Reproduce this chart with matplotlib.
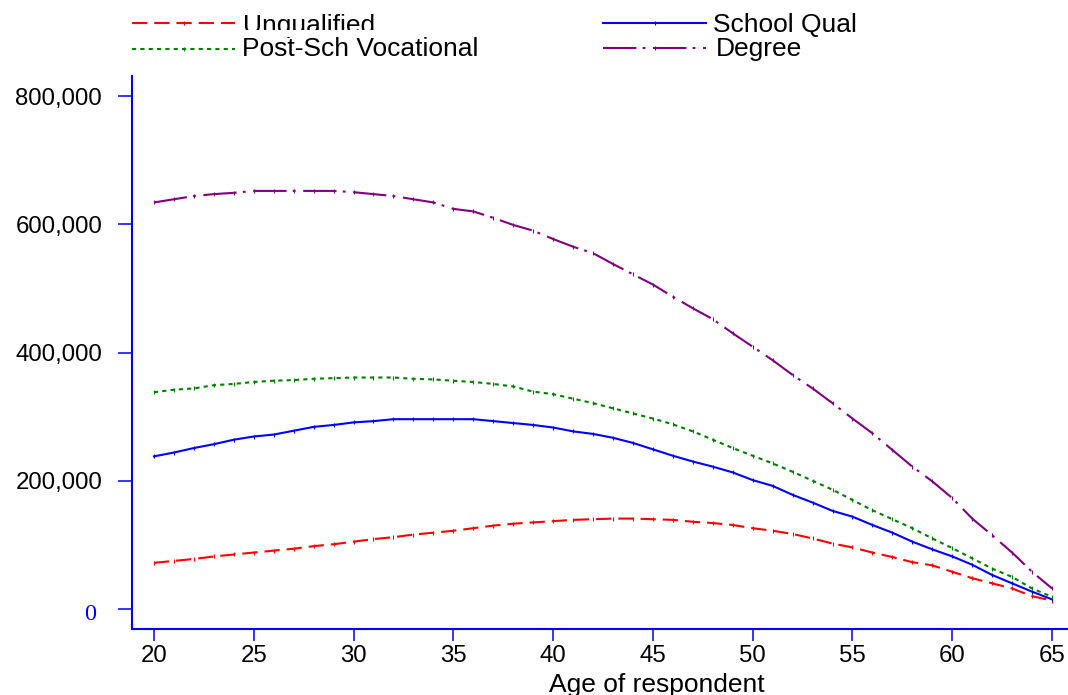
import matplotlib
matplotlib.use("Agg")
import matplotlib.pyplot as plt
from matplotlib.lines import Line2D
from matplotlib.patches import Rectangle
from matplotlib.ticker import FuncFormatter
import matplotlib.transforms as mtransforms

plt.rcParams['font.family'] = ['Liberation Sans', 'DejaVu Sans']
plt.rcParams['lines.scale_dashes'] = False

ages = list(range(20, 66))
unqualified = [72, 75, 78, 82, 85, 88, 91, 94, 98, 101, 105, 109, 112, 116, 119, 122,
               126, 130, 133, 135, 137, 139, 140, 141, 141, 140, 139, 136, 134, 131,
               126, 122, 117, 110, 102, 96, 88, 81, 73, 68, 58, 48, 40, 32, 20, 13]
school_qual = [238, 244, 251, 257, 264, 269, 272, 278, 284, 287, 291, 293, 296, 296,
               296, 296, 296, 293, 290, 287, 283, 277, 273, 267, 259, 249, 239, 230,
               222, 213, 201, 192, 178, 166, 153, 144, 131, 119, 105, 93, 82, 69, 53,
               40, 27, 15]
post_sch = [338, 342, 344, 349, 351, 354, 356, 357, 359, 360, 361, 361, 361, 359, 358,
            356, 354, 351, 347, 339, 335, 328, 321, 313, 305, 297, 288, 277, 264, 251,
            239, 227, 214, 200, 186, 170, 154, 140, 126, 110, 95, 79, 63, 50, 32, 19]
degree = [634, 639, 644, 647, 649, 652, 652, 652, 652, 652, 650, 647, 644, 639, 634,
          624, 620, 610, 599, 590, 577, 565, 555, 538, 522, 506, 487, 469, 452, 430,
          409, 388, 365, 344, 321, 297, 274, 248, 222, 199, 173, 141, 115, 88, 58, 32]

series = [
    ("Unqualified", [v * 1000 for v in unqualified], dict(color='#ff0000', dashes=(11, 5))),
    ("School Qual", [v * 1000 for v in school_qual], dict(color='#0000ff', linestyle='-')),
    ("Post-Sch Vocational", [v * 1000 for v in post_sch], dict(color='#008000', dashes=(3, 3))),
    ("Degree", [v * 1000 for v in degree], dict(color='#800080', dashes=(24, 4.5, 2, 5.5))),
]
xticks = [20, 25, 30, 35, 40, 45, 50, 55, 60, 65]
yticks = [0, 200000, 400000, 600000, 800000]

W, H = 1068, 695
fig = plt.figure(figsize=(W / 100, H / 100), dpi=100)
ax = fig.add_axes([132 / W, 1 - 629 / H, (W - 132) / W, (629 - 76) / H])

lw = 1.5
for name, vals, st in series:
    ax.plot(ages, vals, lw=lw, marker='|', markersize=2.5, markeredgewidth=0.8, **st)

ax.set_xlim(18.9, 65.8)
ax.set_ylim(-31200, 831200)
ax.set_xticks(xticks)
ax.set_yticks(yticks)
ax.yaxis.set_major_formatter(FuncFormatter(lambda v, p: f"{int(v):,}"))

for s in ['top', 'right']:
    ax.spines[s].set_visible(False)
for s in ['left', 'bottom']:
    ax.spines[s].set_color('#0000ff')
    ax.spines[s].set_linewidth(1.5)

ax.tick_params(axis='x', colors='#0000ff', labelcolor='black', length=8.5, width=1.1,
               direction='out', pad=3, labelsize=17.3)
ax.tick_params(axis='y', colors='#0000ff', labelcolor='black', length=10, width=1.1,
               direction='out', pad=11.5, labelsize=17.3)

fig.canvas.draw()
shift = mtransforms.ScaledTranslation(-6 / 100, -3 / 100, fig.dpi_scale_trans)
for lab in ax.get_yticklabels():
    if lab.get_text() == '0':
        lab.set_fontfamily(['Liberation Serif', 'DejaVu Serif'])
        lab.set_color('#0000ff')
        lab.set_fontsize(17.5)
        lab.set_transform(lab.get_transform() + shift)

fig.text(657 / W, 1 - 692 / H, "Age of respondent", ha='center', va='baseline',
         fontsize=19, color='black')

# legend, drawn manually
def fx(px):
    return px / W

def fy(py):
    return 1 - py / H

leg = [
    (series[0], 132, 235, 22.5, 243, 33),
    (series[2], 132, 235, 48.5, 242, 56),
    (series[1], 603, 706, 22.5, 713, 32),
    (series[3], 603, 706, 48.0, 716, 56),
]
for (name, vals, st), x0, x1, ly, tx, ty in leg:
    ln = Line2D([fx(x0), fx((x0 + x1) / 2), fx(x1)], [fy(ly)] * 3, transform=fig.transFigure,
                lw=lw, marker='|', markersize=2.5, markeredgewidth=0.8, markevery=[1], **st)
    fig.add_artist(ln)
    fig.text(fx(tx), fy(ty), name, ha='left', va='baseline', fontsize=19, color='black')

# white strip that clips the bottom of the first legend row (as in the original)
fig.add_artist(Rectangle((fx(240), fy(36.5)), fx(490) - fx(240), fy(30) - fy(36.5),
                         transform=fig.transFigure, facecolor='white', edgecolor='none',
                         zorder=5))

fig.savefig("out.png", dpi=100)
